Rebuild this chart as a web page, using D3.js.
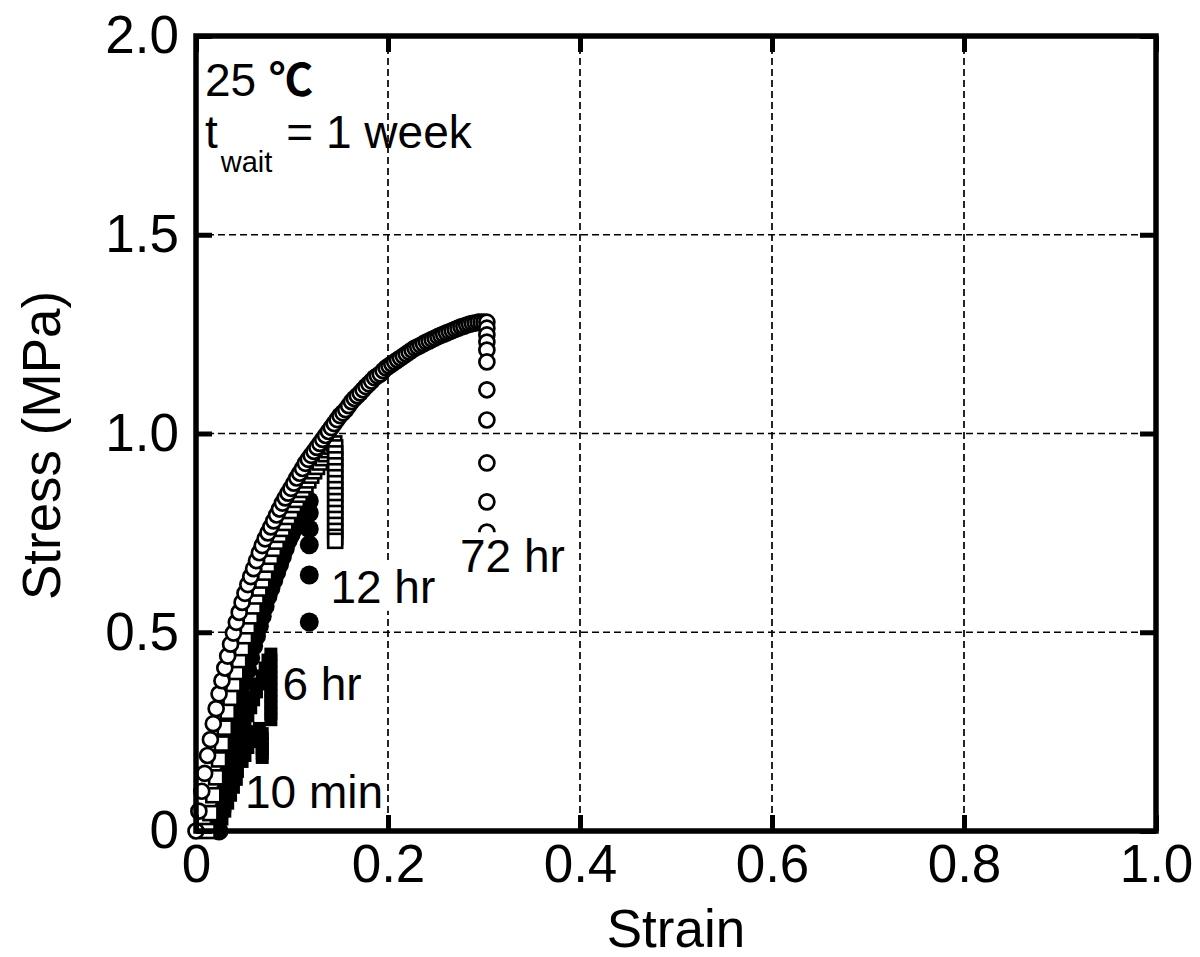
<!DOCTYPE html>
<html><head><meta charset="utf-8">
<script src="https://cdn.jsdelivr.net/npm/d3@7"></script>
<style>
html,body{margin:0;padding:0;background:#fff;}
svg{display:block;}
text{font-family:"Liberation Sans", Arial, sans-serif;fill:#000;}
</style></head>
<body>
<svg id="chart" width="1200" height="957"></svg>
<script>
// ---------------- data ----------------
const xTicks = [0, 0.2, 0.4, 0.6, 0.8, 1.0];
const xTickLabels = ["0", "0.2", "0.4", "0.6", "0.8", "1.0"];
const yTicks = [0, 0.5, 1.0, 1.5, 2.0];
const yTickLabels = ["0", "0.5", "1.0", "1.5", "2.0"];

// 72 hr (open circles)
const strain72 = [0.000,0.003,0.006,0.009,0.012,0.015,0.018,0.021,0.024,0.027,0.030,0.033,0.036,0.039,0.042,0.045,0.048,0.051,0.054,0.057,0.060,0.063,0.066,0.069,0.072,0.075,0.078,0.081,0.084,0.087,0.090,0.093,0.096,0.099,0.102,0.105,0.108,0.111,0.114,0.117,0.120,0.123,0.126,0.129,0.132,0.135,0.138,0.141,0.144,0.147,0.150,0.153,0.156,0.159,0.162,0.165,0.168,0.171,0.174,0.177,0.180,0.183,0.186,0.189,0.192,0.195,0.198,0.201,0.204,0.207,0.210,0.213,0.216,0.219,0.222,0.225,0.228,0.231,0.234,0.237,0.240,0.243,0.246,0.249,0.252,0.255,0.258,0.261,0.264,0.267,0.270,0.273,0.276,0.279,0.282,0.285,0.288,0.291,0.294,0.297,0.300];
const stress72 = [0.000,0.050,0.100,0.145,0.190,0.230,0.270,0.308,0.345,0.378,0.410,0.440,0.470,0.498,0.525,0.550,0.575,0.598,0.620,0.640,0.660,0.680,0.700,0.718,0.735,0.750,0.765,0.780,0.795,0.810,0.825,0.838,0.850,0.862,0.875,0.888,0.900,0.912,0.925,0.935,0.945,0.955,0.965,0.975,0.985,0.995,1.005,1.015,1.025,1.035,1.045,1.052,1.060,1.070,1.080,1.088,1.095,1.102,1.110,1.118,1.125,1.132,1.140,1.145,1.150,1.158,1.165,1.170,1.175,1.180,1.185,1.190,1.195,1.200,1.205,1.210,1.215,1.218,1.222,1.226,1.230,1.233,1.237,1.240,1.244,1.247,1.250,1.253,1.256,1.259,1.262,1.265,1.268,1.270,1.273,1.275,1.277,1.278,1.280,1.280,1.280];
const break72 = 0.303;
const drop72 = [1.280,1.265,1.248,1.230,1.210,1.180,1.110,1.034,0.926,0.828,0.752];

// 12 hr (open squares)
const strain12 = [0.012,0.015,0.018,0.021,0.024,0.027,0.030,0.033,0.036,0.039,0.042,0.045,0.048,0.051,0.054,0.057,0.060,0.063,0.066,0.069,0.072,0.075,0.078,0.081,0.084,0.087,0.090,0.093,0.096,0.099,0.102,0.105,0.108,0.111,0.114,0.117,0.120,0.123,0.126,0.129,0.132,0.135,0.138,0.141,0.144];
const stress12 = [0.000,0.045,0.090,0.135,0.180,0.220,0.260,0.300,0.335,0.370,0.400,0.430,0.460,0.490,0.515,0.540,0.565,0.590,0.610,0.630,0.650,0.670,0.690,0.710,0.728,0.745,0.760,0.775,0.790,0.805,0.820,0.833,0.846,0.858,0.870,0.882,0.894,0.905,0.916,0.927,0.938,0.948,0.958,0.967,0.975];
const break12 = 0.145;
const drop12 = [0.965,0.950,0.935,0.920,0.905,0.890,0.875,0.860,0.845,0.830,0.815,0.800,0.785,0.770,0.755,0.740,0.730];

// unlabeled run (filled circles)
const strainFc = [0.024,0.027,0.030,0.033,0.036,0.039,0.042,0.045,0.048,0.051,0.054,0.057,0.060,0.063,0.066,0.069,0.072,0.075,0.078,0.081,0.084,0.087,0.090,0.093,0.096,0.099,0.102,0.105,0.108,0.111,0.114];
const stressFc = [0.000,0.050,0.100,0.145,0.190,0.230,0.270,0.305,0.340,0.375,0.405,0.435,0.465,0.490,0.515,0.540,0.565,0.590,0.610,0.630,0.650,0.670,0.690,0.710,0.730,0.745,0.760,0.775,0.790,0.805,0.820];
const breakFc = 0.118;
const dropFc = [0.830,0.800,0.760,0.720,0.644,0.526];

// 6 hr (filled squares)
const strain6 = [0.018,0.021,0.024,0.027,0.030,0.033,0.036,0.039,0.042,0.045,0.048,0.051,0.054,0.057,0.060,0.063,0.066,0.069,0.072,0.075];
const stress6 = [0.000,0.020,0.040,0.065,0.090,0.115,0.140,0.165,0.190,0.215,0.240,0.265,0.290,0.310,0.330,0.350,0.370,0.390,0.410,0.430];
const break6 = 0.078;
const drop6 = [0.445,0.430,0.415,0.400,0.385,0.370,0.355,0.340,0.325,0.310,0.295,0.280];

// 10 min (filled squares)
const strain10 = [0.021,0.024,0.027,0.030,0.033,0.036,0.039,0.042,0.045,0.048,0.051,0.054,0.057,0.060,0.063,0.066];
const stress10 = [0.000,0.015,0.030,0.050,0.070,0.090,0.110,0.130,0.150,0.170,0.190,0.210,0.225,0.240,0.250,0.258];
const break10 = 0.069;
const drop10 = [0.245,0.232,0.220,0.208,0.196,0.185];

const labels = [
  {text:"10 min", sx:0.051, sy:0.058},
  {text:"6 hr",   sx:0.090, sy:0.330},
  {text:"12 hr",  sx:0.140, sy:0.574},
  {text:"72 hr",  sx:0.275, sy:0.651}
];

// ---------------- drawing ----------------
const svg = d3.select("#chart");
const L = 196, R = 1156, T = 36, B = 831;
const x = d3.scaleLinear().domain([0, 1]).range([L, R]);
const y = d3.scaleLinear().domain([0, 2]).range([B, T]);

// gridlines
const grid = svg.append("g");
grid.selectAll("line.gx").data(xTicks.slice(1, -1)).join("line")
  .attr("x1", d => x(d)).attr("x2", d => x(d)).attr("y1", T).attr("y2", B)
  .attr("stroke", "#000").attr("stroke-width", 1.7).attr("stroke-dasharray", "7,4");
grid.selectAll("line.gy").data(yTicks.slice(1, -1)).join("line")
  .attr("y1", d => y(d)).attr("y2", d => y(d)).attr("x1", L).attr("x2", R)
  .attr("stroke", "#000").attr("stroke-width", 1.7).attr("stroke-dasharray", "7,4");

const pairs = (xs, ys) => xs.map((v, i) => [v, ys[i]]);
const dropPairs = (bx, ys) => ys.map(v => [bx, v]);

const marks = svg.append("g");
function squares(data, size, filled) {
  marks.append("g").selectAll("rect").data(data).join("rect")
    .attr("x", d => x(d[0]) - size / 2).attr("y", d => y(d[1]) - size / 2)
    .attr("width", size).attr("height", size)
    .attr("fill", filled ? "#000" : "#fff")
    .attr("stroke", "#000").attr("stroke-width", filled ? 0 : 2.6);
}
function circles(data, r, filled) {
  marks.append("g").selectAll("circle").data(data).join("circle")
    .attr("cx", d => x(d[0])).attr("cy", d => y(d[1])).attr("r", r)
    .attr("fill", filled ? "#000" : "#fff")
    .attr("stroke", "#000").attr("stroke-width", filled ? 0 : 2.7);
}

squares(pairs(strain10, stress10).concat(dropPairs(break10, drop10)), 13, true);
squares(pairs(strain6, stress6).concat(dropPairs(break6, drop6)), 13, true);
circles(pairs(strainFc, stressFc).concat(dropPairs(breakFc, dropFc)), 9.5, true);
squares(pairs(strain12, stress12).concat(dropPairs(break12, drop12)), 14, false);
circles(pairs(strain72, stress72).concat(dropPairs(break72, drop72)), 7.5, false);

// series labels with white backing
const lab = svg.append("g");
labels.forEach(d => {
  const g = lab.append("g");
  const t = g.append("text").attr("x", x(d.sx)).attr("y", y(d.sy))
    .attr("font-size", 46).text(d.text);
  const bb = t.node().getBBox();
  g.insert("rect", "text").attr("x", bb.x - 1).attr("y", bb.y + 2)
    .attr("width", bb.width + 2).attr("height", bb.height - 4).attr("fill", "#fff");
});

// frame
svg.append("rect").attr("x", L).attr("y", T).attr("width", R - L).attr("height", B - T)
  .attr("fill", "none").attr("stroke", "#000").attr("stroke-width", 5.5);

// axes (inward ticks on all four sides)
const fmtX = d => xTickLabels[xTicks.indexOf(d)];
const fmtY = d => yTickLabels[yTicks.indexOf(d)];
const axB = svg.append("g").attr("transform", `translate(0,${B})`)
  .call(d3.axisBottom(x).tickValues(xTicks).tickFormat(fmtX).tickSize(-16).tickPadding(13));
const axT = svg.append("g").attr("transform", `translate(0,${T})`)
  .call(d3.axisTop(x).tickValues(xTicks).tickFormat("").tickSize(-16));
const axL = svg.append("g").attr("transform", `translate(${L},0)`)
  .call(d3.axisLeft(y).tickValues(yTicks).tickFormat(fmtY).tickSize(-16).tickPadding(17));
const axR = svg.append("g").attr("transform", `translate(${R},0)`)
  .call(d3.axisRight(y).tickValues(yTicks).tickFormat("").tickSize(-16));
[axB, axT, axL, axR].forEach(a => {
  a.select(".domain").remove();
  a.selectAll(".tick line").attr("stroke", "#000").attr("stroke-width", 5);
  a.selectAll(".tick text").attr("font-size", 53)
    .attr("font-family", "'Liberation Sans', Arial, sans-serif").attr("fill", "#000");
});

// axis titles
svg.append("text").attr("x", (L + R) / 2).attr("y", 947).attr("text-anchor", "middle")
  .attr("font-size", 53).text("Strain");
svg.append("text").attr("transform", `translate(60,${(T + B) / 2 + 12}) rotate(-90)`)
  .attr("text-anchor", "middle").attr("font-size", 53).text("Stress (MPa)");

// condition annotation
const ann = svg.append("text").attr("x", 205).attr("y", 96).attr("font-size", 46);
ann.append("tspan").text("25 ");
ann.append("tspan").attr("font-family", "'Noto Sans CJK JP'").attr("font-weight", "bold").attr("font-size", 44).text("℃");
const ann2 = svg.append("text").attr("x", 205).attr("y", 148).attr("font-size", 46);
ann2.append("tspan").text("t");
ann2.append("tspan").attr("font-size", 29).attr("dy", 24).attr("dx", 3).text("wait");
ann2.append("tspan").attr("dy", -24).attr("dx", 14).text("= 1 week");
</script>
</body></html>
